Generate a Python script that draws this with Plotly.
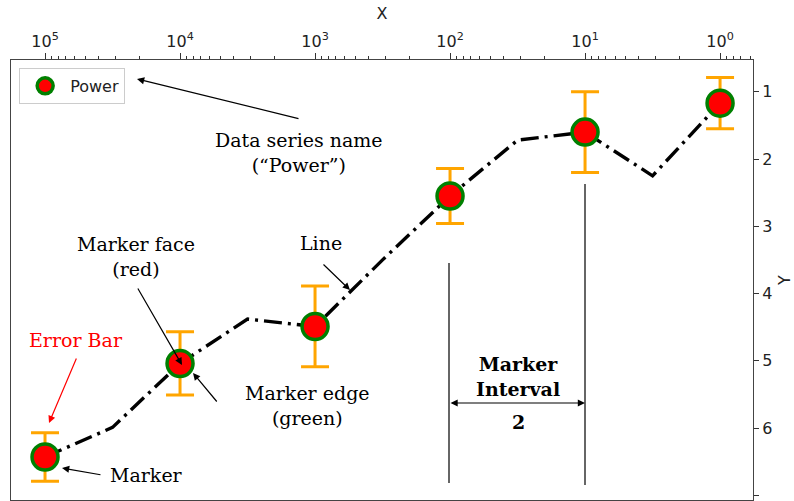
import plotly.graph_objects as go

# ---- data ----
x_vals = [100000, 31623, 10000, 3162, 1000, 316.2, 100, 31.62, 10, 3.162, 1]
y_vals = [6.43, 5.99, 5.04, 4.38, 4.49, 3.50, 2.55, 1.72, 1.60, 2.25, 1.17]
marker_every = 2
err_vals = [0.36, 0.47, 0.60, 0.41, 0.60, 0.38]
series_name = "Power"
x_tickvals = [100000, 10000, 1000, 100, 10, 1]
x_ticktext = ["10<sup>5</sup>", "10<sup>4</sup>", "10<sup>3</sup>", "10<sup>2</sup>", "10<sup>1</sup>", "10<sup>0</sup>"]
y_tickvals = [1, 2, 3, 4, 5, 6, 7]

W, H = 794, 501
L, R, T, B = 11, 753, 60, 500  # plot area in pixels


def P(px, py):
    return (px - L) / (R - L), (B - py) / (B - T)


fig = go.Figure()
fig.add_trace(go.Scatter(
    x=x_vals, y=y_vals, mode="lines", showlegend=False,
    line=dict(color="black", width=3.4, dash="18px,6px,3px,6px"),
    hoverinfo="skip"))
fig.add_trace(go.Scatter(
    x=x_vals[::marker_every], y=y_vals[::marker_every], mode="markers", name=series_name,
    marker=dict(color="red", size=26, line=dict(color="green", width=3.5)),
    error_y=dict(type="data", array=err_vals, color="orange", thickness=3, width=14)))

serif = "DejaVu Serif"
texts = [
    ("Data series name<br>(“Power”)", 299, 152, "black", False),
    ("Marker face<br>(red)", 136, 256, "black", False),
    ("Line", 321, 243, "black", False),
    ("Error Bar", 76, 340, "red", False),
    ("Marker edge<br>(green)", 307, 405, "black", False),
    ("Marker", 146, 475, "black", False),
    ("Marker<br>Interval", 518, 376, "black", True),
    ("2", 518, 422, "black", True),
]
for t, px, py, col, bold in texts:
    xp, yp = P(px, py)
    fig.add_annotation(x=xp, y=yp, xref="paper", yref="paper", text=("<b>%s</b>" % t) if bold else t,
                       showarrow=False, xanchor="center", yanchor="middle",
                       font=dict(family=serif, size=19, color=col))

arrows = [
    ((137, 79), (300, 119), "black", "end"),
    ((182, 365), (137, 287), "black", "end"),
    ((350, 290), (322, 263), "black", "end"),
    ((49, 423), (77, 357), "red", "end"),
    ((193, 373), (218, 403), "black", "end"),
    ((62, 468), (102, 475), "black", "end"),
    ((585, 403), (449, 403), "black", "end+start"),
]
for (tx, ty), (sx, sy), col, side in arrows:
    xp, yp = P(tx, ty)
    fig.add_annotation(x=xp, y=yp, xref="paper", yref="paper", text="",
                       showarrow=True, ax=sx - tx, ay=sy - ty, axref="pixel", ayref="pixel",
                       arrowhead=2, arrowsize=1.2, arrowwidth=1.2, arrowcolor=col, arrowside=side,
                       startarrowhead=2, startarrowsize=1.2)

for px, py0, py1 in [(449, 263, 483), (585, 184, 485)]:
    x0, y0 = P(px, py0)
    _, y1 = P(px, py1)
    fig.add_shape(type="line", xref="paper", yref="paper", x0=x0, x1=x0, y0=y0, y1=y1,
                  line=dict(color="#333", width=1.5))

fig.update_layout(
    width=W, height=H, margin=dict(l=L, r=W - R, t=T, b=H - B),
    paper_bgcolor="white", plot_bgcolor="white",
    font=dict(family="DejaVu Sans", size=16, color="#222"),
    legend=dict(x=0.011, y=0.982, xanchor="left", yanchor="top",
                bordercolor="#ccc", borderwidth=1, bgcolor="white",
                font=dict(family="DejaVu Sans", size=16), itemwidth=40),
    xaxis=dict(type="log", side="top", range=[5.252, -0.244],
               tickvals=x_tickvals, ticktext=x_ticktext,
               ticks="outside", ticklen=6, tickcolor="#333",
               minor=dict(ticks="outside", ticklen=3, tickcolor="#333", showgrid=False, dtick="D1"),
               showgrid=False, zeroline=False, showline=True, mirror=True, linecolor="#444", linewidth=1.2,
               title=dict(text="X", standoff=6, font=dict(size=16))),
    yaxis=dict(side="right", range=[7.07, 0.528], tickvals=y_tickvals,
               ticks="outside", ticklen=5, tickcolor="#333",
               showgrid=False, zeroline=False, showline=True, mirror=True, linecolor="#444", linewidth=1.2,
               title=dict(text="Y", standoff=8, font=dict(size=16))),
)

fig.write_html("out.html")
